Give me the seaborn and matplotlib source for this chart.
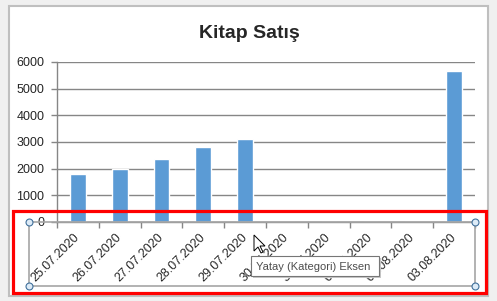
import matplotlib
matplotlib.use("Agg")
import matplotlib.pyplot as plt
from matplotlib.patches import Rectangle, Polygon
from matplotlib.lines import Line2D
import seaborn as sns
import pandas as pd
import numpy as np

# ---------------- data ----------------
dates = ['25.07.2020', '26.07.2020', '27.07.2020', '28.07.2020', '29.07.2020',
         '30.07.2020', '31.07.2020', '01.08.2020', '02.08.2020', '03.08.2020']
sales = [1800, 2000, 2350, 2800, 3100, 0, 0, 0, 0, 5650]
yticks = [0, 1000, 2000, 3000, 4000, 5000, 6000]
title = 'Kitap Satış'
tooltip = 'Yatay (Kategori) Eksen'

sns.set_style("white")
plt.rcParams['font.family'] = ['Liberation Sans', 'DejaVu Sans']

W, H = 497, 301
fig = plt.figure(figsize=(W / 100, H / 100), dpi=100)
fig.patch.set_facecolor('#F0F0F0')

def fx(x):
    return x / W

def fy(y):
    return 1 - y / H

def frect(x0, y0, x1, y1, **kw):
    r = Rectangle((fx(x0), fy(y1)), fx(x1) - fx(x0), fy(y0) - fy(y1),
                  transform=fig.transFigure, **kw)
    fig.patches.append(r)
    return r

# chart area (white, gray frame)
frect(9, 6, 488, 296, facecolor='white', edgecolor='#BFBFBF', lw=1.5, zorder=-1)

# ---------------- plot ----------------
ax = fig.add_axes([fx(57), fy(222), fx(475) - fx(57), fy(62) - fy(222)])
ax.set_facecolor('none')
df = pd.DataFrame({'Tarih': dates, 'Satis': sales})
sns.barplot(data=df, x='Tarih', y='Satis', color='#5B9BD5', saturation=1,
            width=0.38, ax=ax)
ax.set_xlim(-0.5, len(dates) - 0.5)
ax.set_ylim(0, 6000)
ax.set_yticks(yticks)
ax.yaxis.grid(True, color='#868686', lw=1)
ax.set_axisbelow(True)
for s in ['top', 'right']:
    ax.spines[s].set_visible(False)
for s in ['left', 'bottom']:
    ax.spines[s].set_color('#868686')
    ax.spines[s].set_linewidth(1)
ax.set_xlabel('')
ax.set_ylabel('')

ax.tick_params(axis='y', left=True, length=4, width=1, color='#868686',
               labelsize=9, pad=5)
ax.set_xticks(np.arange(-0.5, len(dates)), minor=True)
ax.tick_params(axis='x', which='minor', bottom=True, length=4, width=1,
               color='#868686', direction='out')
ax.tick_params(axis='x', which='major', length=0, pad=10, labelsize=9)
for lab in ax.get_xticklabels():
    lab.set_rotation(45)
    lab.set_ha('right')
    lab.set_va('center')
    lab.set_rotation_mode('anchor')

fig.text(fx(249), fy(34), title, ha='center', va='center',
         fontsize=14, fontweight='bold')

# ---------------- selection overlays ----------------
# selected axis box
frect(29, 222, 475, 286, facecolor='none', edgecolor='#A6A6A6', lw=1.2, zorder=3)
for cx, cy in [(29, 222), (475, 222), (29, 286), (475, 286)]:
    fig.add_artist(Line2D([fx(cx)], [fy(cy)], marker='o', ms=5,
                          mfc='#DDEBF7', mec='#41719C', mew=0.8,
                          transform=fig.transFigure, zorder=4))
# red highlight
frect(13, 211, 486, 293, facecolor='none', edgecolor='#FF0000', lw=2.3, zorder=5)

# tooltip
frect(253, 258, 381, 278, facecolor='#C8C8C8', edgecolor='none', zorder=6)
frect(251, 256, 379, 276, facecolor='white', edgecolor='#767676', lw=0.8, zorder=7)
fig.text(fx(256), fy(266.5), tooltip, ha='left', va='center', fontsize=8,
         color='#4D4D4D', zorder=8)

# mouse cursor
cursor = [(254, 235), (254, 251), (258, 247), (261, 253), (263, 252),
          (260, 246), (265, 246)]
fig.patches.append(Polygon([(fx(a), fy(b)) for a, b in cursor], closed=True,
                           facecolor='white', edgecolor='black', lw=0.7,
                           transform=fig.transFigure, zorder=9))

fig.savefig('out.png', dpi=100)
